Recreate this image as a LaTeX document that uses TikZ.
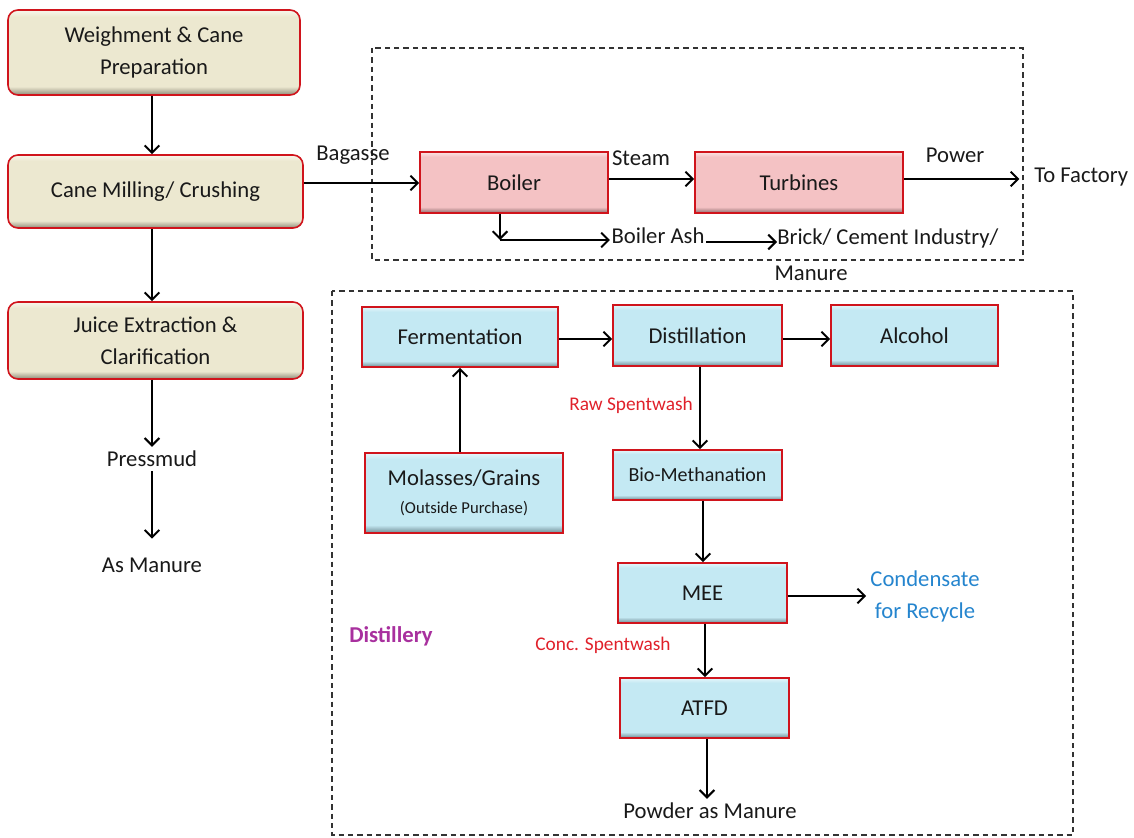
\documentclass[tikz,border=0pt]{standalone}
\usepackage{fontspec}
\setmainfont{Carlito}
\usetikzlibrary{arrows.meta}
\definecolor{beigeC}{HTML}{ECE8D0}
\definecolor{beigeL}{HTML}{F8F6EC}
\definecolor{beigeD}{HTML}{8E8A78}
\definecolor{pinkC}{HTML}{F4C2C4}
\definecolor{pinkL}{HTML}{FBE4E5}
\definecolor{pinkD}{HTML}{8E6C6E}
\definecolor{blueC}{HTML}{C4E9F3}
\definecolor{blueL}{HTML}{E6F6FB}
\definecolor{blueD}{HTML}{6E8A92}
\definecolor{bordRed}{HTML}{D0141C}
\definecolor{txtRed}{HTML}{E0202A}
\definecolor{txtBlue}{HTML}{2585CE}
\definecolor{txtPurple}{HTML}{A8309E}
\pgfdeclareverticalshading{beigeshade}{100bp}{color(0bp)=(beigeD); color(25bp)=(beigeD); color(30bp)=(beigeC); color(71bp)=(beigeC); color(75bp)=(beigeL); color(100bp)=(beigeL)}
\pgfdeclareverticalshading{pinkshade}{100bp}{color(0bp)=(pinkD); color(25bp)=(pinkD); color(30bp)=(pinkC); color(71bp)=(pinkC); color(75bp)=(pinkL); color(100bp)=(pinkL)}
\pgfdeclareverticalshading{blueshade}{100bp}{color(0bp)=(blueD); color(25bp)=(blueD); color(30bp)=(blueC); color(71bp)=(blueC); color(75bp)=(blueL); color(100bp)=(blueL)}
\begin{document}
\begin{tikzpicture}[x=0.75pt,y=-0.75pt,
  sz/.style 2 args={minimum width=#1*0.75pt, minimum height=#2*0.75pt},
  base/.style={font=\fontsize{17}{24}\selectfont, text=black!90, inner sep=2pt, align=center},
  beigebox/.style={base, shading=beigeshade, draw=bordRed, line width=1.2pt, rounded corners=7.5pt},
  pinkbox/.style={base, shading=pinkshade, draw=bordRed, line width=1.2pt},
  bluebox/.style={base, shading=blueshade, draw=bordRed, line width=1.2pt},
  lab/.style={base, inner sep=3pt},
  redlab/.style={font=\fontsize{14.5}{18}\selectfont, text=txtRed, inner sep=2pt},
  arr/.style={line width=1.5pt, draw=black, -{Straight Barb[length=5.5pt,width=11pt]}},
  dashbox/.style={draw=black!80, line width=0.9pt, dash pattern=on 4pt off 3pt}
]
\useasboundingbox (0,0) rectangle (1134,838);

% dashed groups
\draw[dashbox] (372,48) rectangle (1023,260);
\draw[dashbox] (332,291) rectangle (1073,835);

% left column
\node[beigebox, sz={292}{85}] (b1) at (154,52.5) {Weighment \& Cane\\Preparation};
\node[beigebox, sz={295}{73}] (b2) at (155.5,191.5) {Cane Milling/ Crushing};
\node[beigebox, sz={295}{77}] (b3) at (155.5,340.5) {Juice Extraction \&\\Clarification};
\node[lab] (press) at (152,459) {Pressmud};
\node[lab] (asman) at (152,565) {As Manure};

\draw[arr] (b1.south -| 152,0) -- (b2.north -| 152,0);
\draw[arr] (b2.south -| 152,0) -- (b3.north -| 152,0);
\draw[arr] (b3.south -| 152,0) -- (press.north);
\draw[arr, shorten >=11pt] (press.south) -- (asman.north);

% power section
\node[pinkbox, sz={188}{61}] (boiler) at (514,182.5) {Boiler};
\node[pinkbox, sz={208}{61}] (turb) at (799,182.5) {Turbines};
\node[lab] (bag) at (353,155) {Bagasse};
\node[lab] (steam) at (641,158) {Steam};
\node[lab] (power) at (955,155) {Power};
\node[lab, anchor=west] (tofac) at (1030,177) {To Factory};
\node[lab, inner xsep=1pt] (ash) at (658,236) {Boiler Ash};
\node[lab, anchor=north west, align=left, inner sep=0pt, font=\fontsize{17}{30\dimexpr 0.75pt\relax}\selectfont] (brick) at (777,228) {Brick/ Cement Industry/\\[5pt]\hspace*{-2pt}Manure};
\coordinate (ashc) at (500,240);
\coordinate (ashline) at (0,242);

\draw[arr] (b2.east |- 0,183) -- (boiler.west |- 0,183);
\draw[arr] (boiler.east |- 0,179) -- (turb.west |- 0,179);
\draw[arr, shorten >=8pt] (turb.east |- 0,179) -- (tofac.west |- 0,179);
\draw[arr] (boiler.south -| ashc) -- (ashc);
\draw[arr] (ashc) -- (ashc -| ash.west);
\draw[arr] (ash.east |- ashline) -- (brick.west |- ashline);

% distillery
\node[bluebox, sz={196}{60}] (ferm) at (460,337) {Fermentation};
\node[bluebox, sz={169}{61}] (dist) at (697.5,335.5) {Distillation};
\node[bluebox, sz={167}{61}] (alc) at (914.5,335.5) {Alcohol};
\node[bluebox, sz={198}{80}] (mol) at (464,493) {Molasses/Grains\\[-3pt]{\fontsize{12.5}{15}\selectfont (Outside Purchase)}};
\node[bluebox, sz={169}{50}, font=\fontsize{15}{18}\selectfont] (biom) at (697.5,475) {Bio-Methanation};
\node[bluebox, sz={169}{60}] (mee) at (702.5,593) {MEE};
\node[bluebox, sz={169}{60}] (atfd) at (704.5,708) {ATFD};
\node[redlab] (raw) at (631,405) {Raw Spentwash};
\node[redlab] (conc) at (603,645) {Conc. Spentwash};
\node[lab, text=txtBlue, font=\fontsize{17}{24}\selectfont] (cond) at (925,596) {Condensate\\for Recycle};
\node[lab] (powder) at (710,811) {Powder as Manure};
\node[font=\bfseries\fontsize{17}{20}\selectfont, text=txtPurple] (distl) at (391,636) {Distillery};

\draw[arr] (ferm.east |- 0,339) -- (dist.west |- 0,339);
\draw[arr] (dist.east |- 0,339) -- (alc.west |- 0,339);
\draw[arr] (mol.north -| 460,0) -- (ferm.south -| 460,0);
\draw[arr] (dist.south -| 700,0) -- (biom.north -| 700,0);
\draw[arr] (biom.south -| 703,0) -- (mee.north -| 703,0);
\draw[arr] (mee.east |- 0,596) -- (cond.west |- 0,596);
\draw[arr] (mee.south -| 705,0) -- (atfd.north -| 705,0);
\draw[arr] (atfd.south -| 707,0) -- (powder.north -| 707,0);
\end{tikzpicture}
\end{document}
